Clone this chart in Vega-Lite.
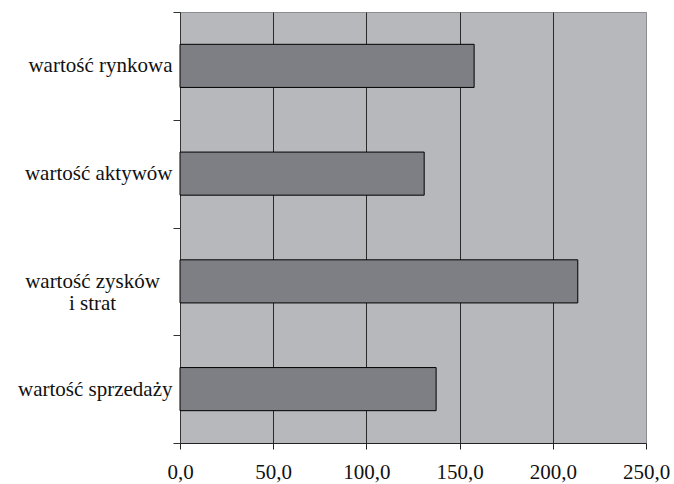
{
  "$schema": "https://vega.github.io/schema/vega-lite/v6.json",
  "width": 466,
  "height": 431,
  "autosize": {"type": "none"},
  "padding": {"left": 180, "top": 12, "right": 28, "bottom": 41},
  "background": "white",
  "config": {
    "view": {"fill": "#b7b8bc", "stroke": "#8c8d91", "strokeWidth": 1}
  },
  "data": {
    "values": [
      {"kategoria": "wartość rynkowa", "wartosc": 157.8},
      {"kategoria": "wartość aktywów", "wartosc": 131.0},
      {"kategoria": "wartość zysków i strat", "wartosc": 213.4},
      {"kategoria": "wartość sprzedaży", "wartosc": 137.4}
    ]
  },
  "mark": {
    "type": "bar",
    "height": {"band": 0.4},
    "fill": "#7e7f84",
    "stroke": "#000000",
    "strokeWidth": 1
  },
  "encoding": {
    "y": {
      "field": "kategoria",
      "type": "nominal",
      "sort": null,
      "scale": {"paddingInner": 0, "paddingOuter": 0},
      "axis": {
        "title": null,
        "domainColor": "#333333",
        "tickColor": "#333333",
        "tickSize": 7,
        "tickBand": "extent",
        "grid": false,
        "labelFont": "Liberation Serif",
        "labelFontSize": 21,
        "labelColor": "#111111",
        "labelLimit": 0,
        "labelLineHeight": 22,
        "labelBaseline": "middle",
        "labelExpr": "datum.value == 'wartość zysków i strat' ? ['wartość zysków', 'i strat'] : datum.label",
        "labelAlign": {
          "condition": {"test": "datum.value == 'wartość zysków i strat'", "value": "center"},
          "value": "right"
        },
        "labelPadding": {
          "condition": {"test": "datum.value == 'wartość zysków i strat'", "value": 81},
          "value": 1
        }
      }
    },
    "x": {
      "field": "wartosc",
      "type": "quantitative",
      "scale": {"domain": [0, 250], "nice": false},
      "axis": {
        "title": null,
        "values": [0, 50, 100, 150, 200, 250],
        "grid": true,
        "gridColor": {
          "condition": {"test": "datum.value == 250", "value": "#8c8d91"},
          "value": "#2a2a2a"
        },
        "gridWidth": 1,
        "domainColor": "#222222",
        "tickColor": "#222222",
        "tickSize": 6,
        "labelFont": "Liberation Serif",
        "labelFontSize": 21,
        "labelColor": "#111111",
        "labelPadding": 12,
        "labelFlush": false,
        "labelExpr": "replace(format(datum.value, '.1f'), '.', ',')"
      }
    }
  }
}
